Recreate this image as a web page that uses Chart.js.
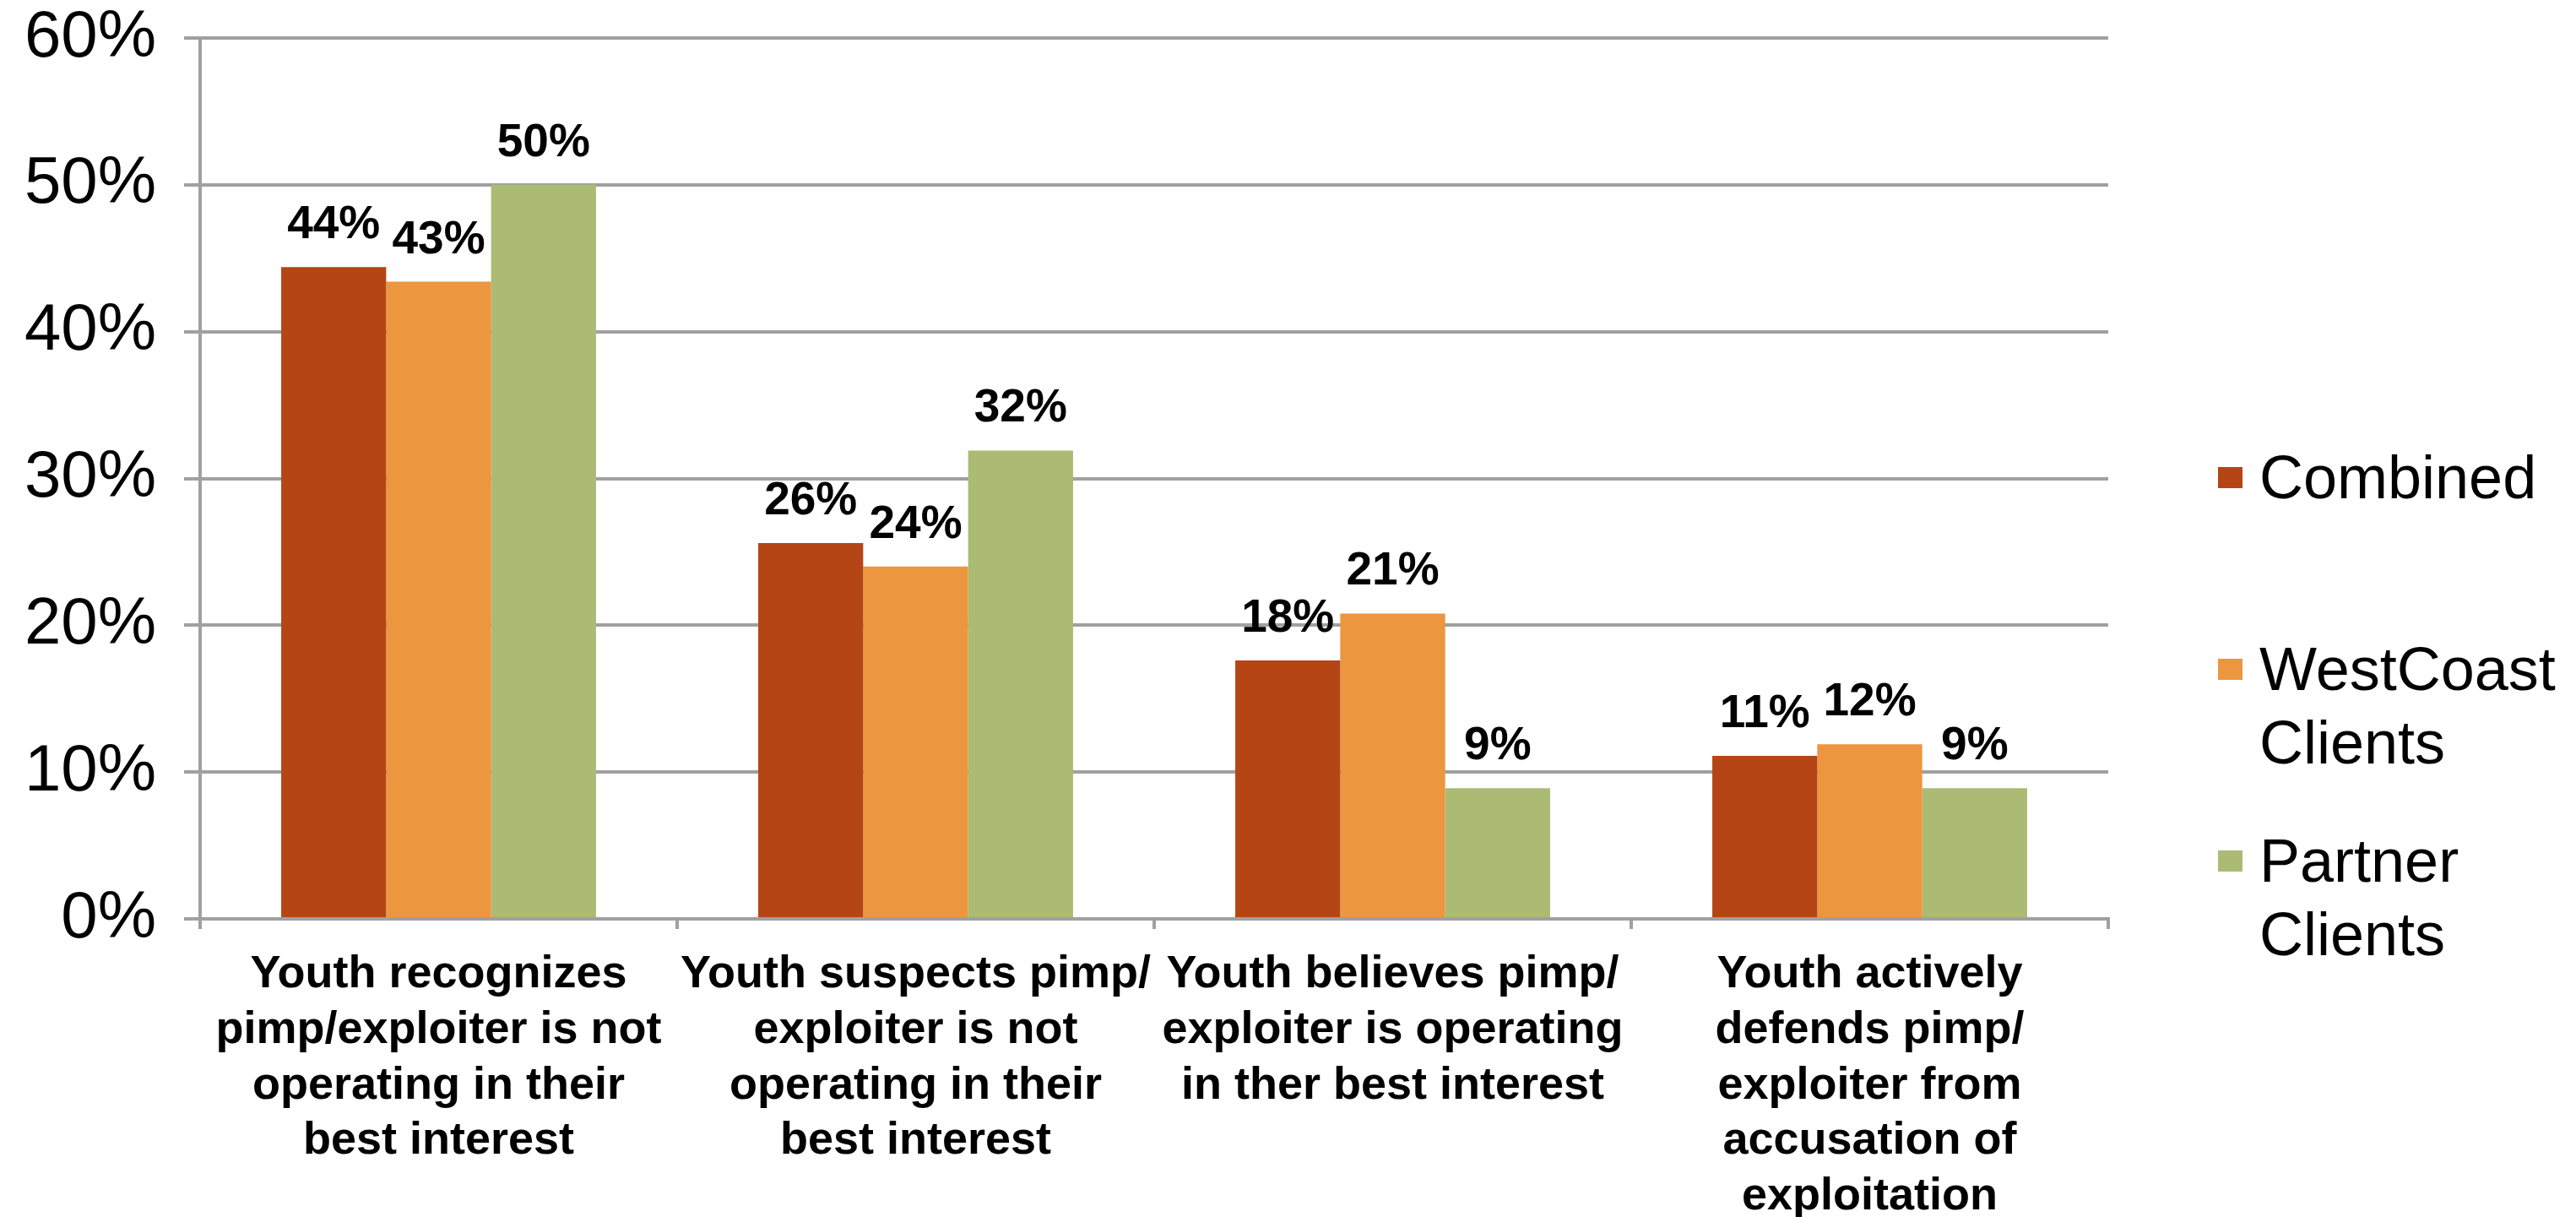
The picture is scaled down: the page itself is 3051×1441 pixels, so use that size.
<!DOCTYPE html>
<html>
<head>
<meta charset="utf-8">
<script src="https://cdn.jsdelivr.net/npm/chart.js@4/dist/chart.umd.min.js"></script>
<style>
  body { margin: 0; background: #ffffff; }
  #wrap { position: relative; width: 3051px; height: 1441px; overflow: hidden; }
  #legend { position: absolute; left: 2627px; top: 522px; font-family: "Liberation Sans", Arial, Helvetica, sans-serif; }
  .legend-item { display: flex; height: 227px; }
  .legend-box { width: 29px; height: 25px; margin-top: 31px; flex: none; }
  .legend-text { margin-left: 20px; font-size: 72px; line-height: 87px; color: #000; }
</style>
</head>
<body>
<div id="wrap">
  <canvas id="myBarChart"></canvas>
  <div id="legend"></div>
</div>
<script>
const FONT = '"Liberation Sans", Arial, Helvetica, sans-serif';
const GRID = "#a0a0a0";

// categories (already broken into lines)
const categories = [
  ["Youth recognizes", "pimp/exploiter is not", "operating in their", "best interest"],
  ["Youth suspects pimp/", "exploiter is not", "operating in their", "best interest"],
  ["Youth believes pimp/", "exploiter is operating", "in ther best interest"],
  ["Youth actively", "defends pimp/", "exploiter from", "accusation of", "exploitation"]
];

// percent of youth, per group
const combined = [44.4, 25.6, 17.6, 11.1];
const westCoast = [43.4, 24.0, 20.8, 11.9];
const partner = [50.0, 31.9, 8.9, 8.9];

const seriesNames = [["Combined"], ["WestCoast", "Clients"], ["Partner", "Clients"]];
const seriesColors = ["#b64516", "#ec963f", "#abbb73"];

const yTicks = [0, 10, 20, 30, 40, 50, 60];

/* draws the % value above every bar */
const valueLabels = {
  id: "valueLabels",
  afterDatasetsDraw(chart) {
    const ctx = chart.ctx;
    ctx.save();
    ctx.font = "bold 55px " + FONT;
    ctx.fillStyle = "#000";
    ctx.textAlign = "center";
    ctx.textBaseline = "alphabetic";
    chart.data.datasets.forEach(function(ds, i) {
      const meta = chart.getDatasetMeta(i);
      meta.data.forEach(function(bar, j) {
        ctx.fillText(Math.round(ds.data[j]) + "%", bar.x, bar.y - 34);
      });
    });
    ctx.restore();
  }
};

const data = {
  labels: categories,
  datasets: [
    { label: seriesNames[0].join(" "), data: combined, backgroundColor: seriesColors[0] },
    { label: seriesNames[1].join(" "), data: westCoast, backgroundColor: seriesColors[1] },
    { label: seriesNames[2].join(" "), data: partner, backgroundColor: seriesColors[2] }
  ]
};

const ctx = document.getElementById("myBarChart").getContext("2d");
const myBarChart = new Chart(ctx, {
  type: "bar",
  data: data,
  plugins: [valueLabels],
  options: {
    responsive: true,
    maintainAspectRatio: false,
    animation: false,
    categoryPercentage: 0.66,
    barPercentage: 1.0,
    layout: { padding: { top: 45, right: 554, left: 0, bottom: 0 } },
    plugins: {
      legend: { display: false },
      tooltip: { enabled: false }
    },
    scales: {
      x: {
        grid: { drawOnChartArea: false, drawTicks: true, tickLength: 12, color: GRID, lineWidth: 4, offset: true },
        border: { display: true, color: GRID, width: 4 },
        ticks: {
          color: "#000",
          font: { family: FONT, size: 54, weight: "bold", lineHeight: 1.22 },
          padding: 21,
          maxRotation: 0,
          autoSkip: false
        },
        afterFit(scale) {
          scale.height = 353;
          scale.paddingLeft = 0;
          scale.paddingRight = 0;
        }
      },
      y: {
        min: 0,
        max: 60,
        afterBuildTicks(scale) { scale.ticks = yTicks.map(v => ({ value: v })); },
        grid: { color: GRID, lineWidth: 4, tickLength: 19 },
        border: { display: true, color: GRID, width: 4 },
        ticks: {
          color: "#000",
          font: { family: FONT, size: 78 },
          padding: 33,
          callback: v => v + "%"
        },
        afterFit(scale) {
          // top label may poke above the plot, like the 60% one does
          scale.width = 237;
          scale.paddingTop = 0;
          scale.paddingBottom = 0;
        }
      }
    }
  }
});

// legend on the right, labels wrap like the chart's series names
const legendEl = document.getElementById("legend");
seriesNames.forEach(function(name, i) {
  const item = document.createElement("div");
  item.className = "legend-item";
  const box = document.createElement("div");
  box.className = "legend-box";
  box.style.background = seriesColors[i];
  const text = document.createElement("div");
  text.className = "legend-text";
  text.innerHTML = name.join("<br>");
  item.appendChild(box);
  item.appendChild(text);
  legendEl.appendChild(item);
});
</script>
</body>
</html>
